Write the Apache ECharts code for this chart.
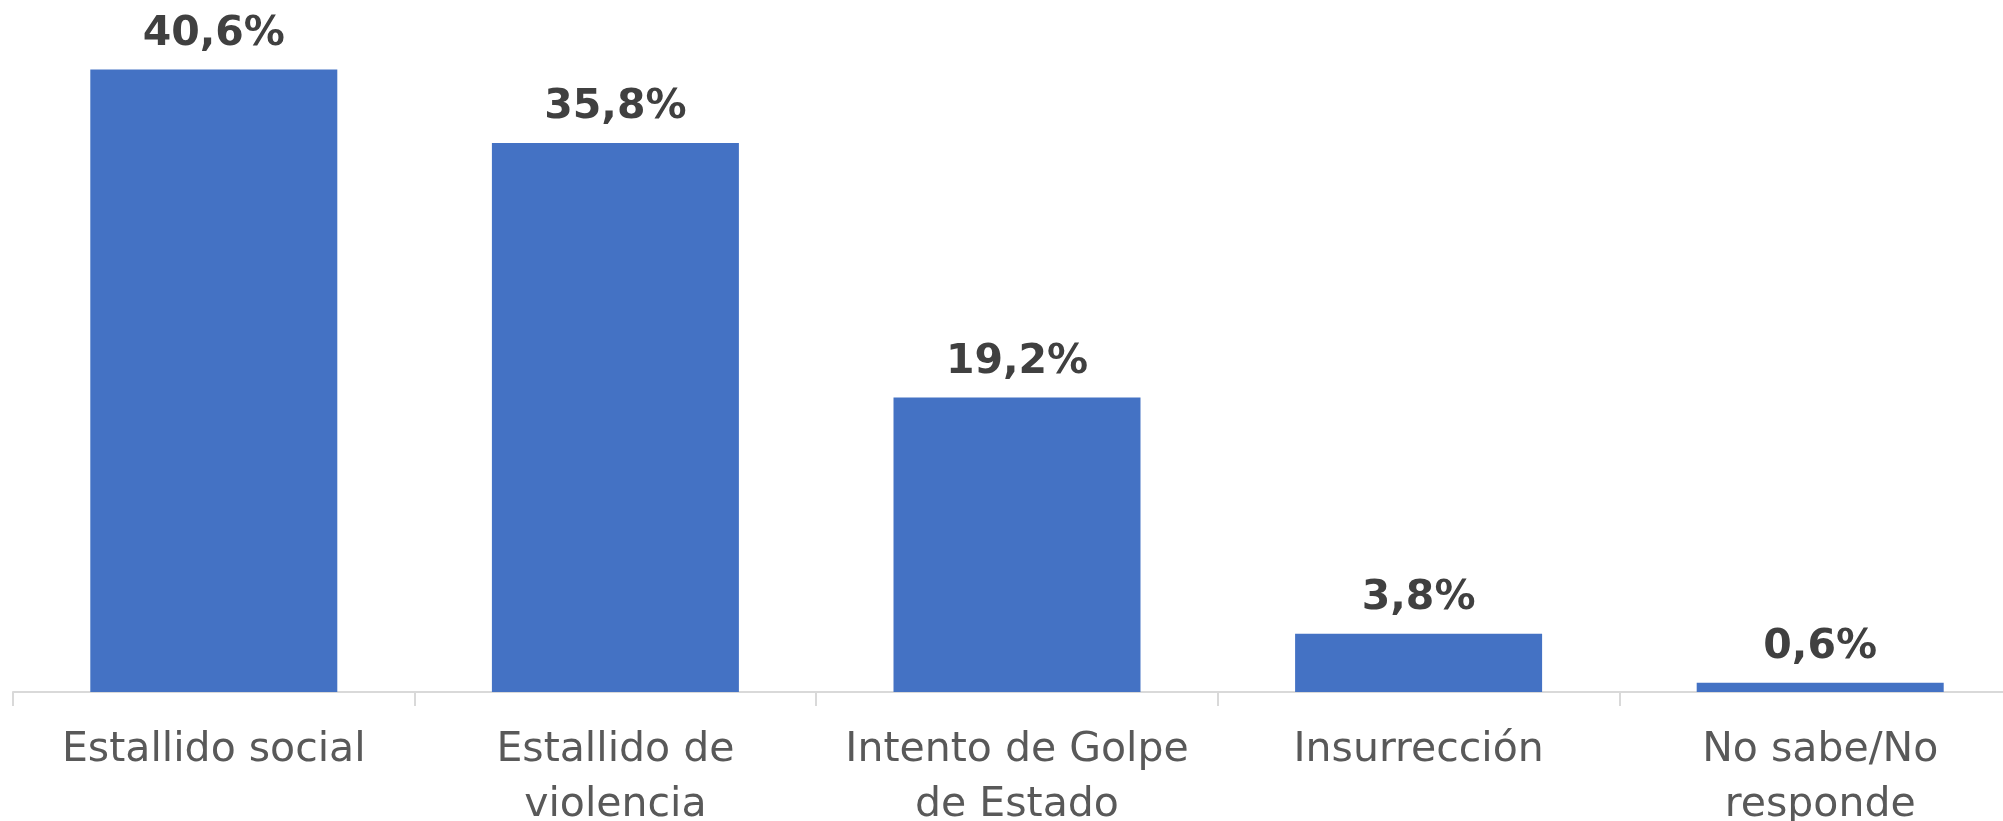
<!DOCTYPE html>
<html>
<head>
<meta charset="utf-8">
<script src="https://cdn.jsdelivr.net/npm/echarts@6/dist/echarts.min.js"></script>
<style>
  html, body { margin: 0; padding: 0; background: #fff; }
  #chart { width: 2003px; height: 821px; }
</style>
</head>
<body>
<div id="chart"></div>
<script>
var categories = ['Estallido social', 'Estallido de\nviolencia', 'Intento de Golpe\nde Estado', 'Insurrección', 'No sabe/No\nresponde'];
var values = [40.6, 35.8, 19.2, 3.8, 0.6];

var chart = echarts.init(document.getElementById('chart'));

chart.setOption({
    animation: false,
    grid: {
        left: 13,
        top: 2,
        width: 2008,
        height: 690,
        outerBoundsMode: 'none',
        containLabel: false
    },
    xAxis: {
        type: 'category',
        data: categories,
        axisLine: { lineStyle: { color: '#d9d9d9', width: 2 } },
        axisTick: { show: true, length: 14, lineStyle: { color: '#d9d9d9', width: 2 } },
        axisLabel: {
            interval: 0,
            margin: 31,
            color: '#595959',
            fontFamily: 'DejaVu Sans',
            fontSize: 41,
            lineHeight: 55
        }
    },
    yAxis: {
        type: 'value',
        min: 0,
        max: 45,
        show: false
    },
    series: [{
        type: 'bar',
        data: values,
        barWidth: 247,
        itemStyle: { color: '#4472c4' },
        label: {
            show: true,
            position: 'top',
            distance: 15,
            color: '#404040',
            fontFamily: 'DejaVu Sans',
            fontWeight: 'bold',
            fontSize: 41,
            formatter: function (p) {
                return p.value.toFixed(1).replace('.', ',') + '%';
            }
        }
    }]
});
</script>
</body>
</html>
